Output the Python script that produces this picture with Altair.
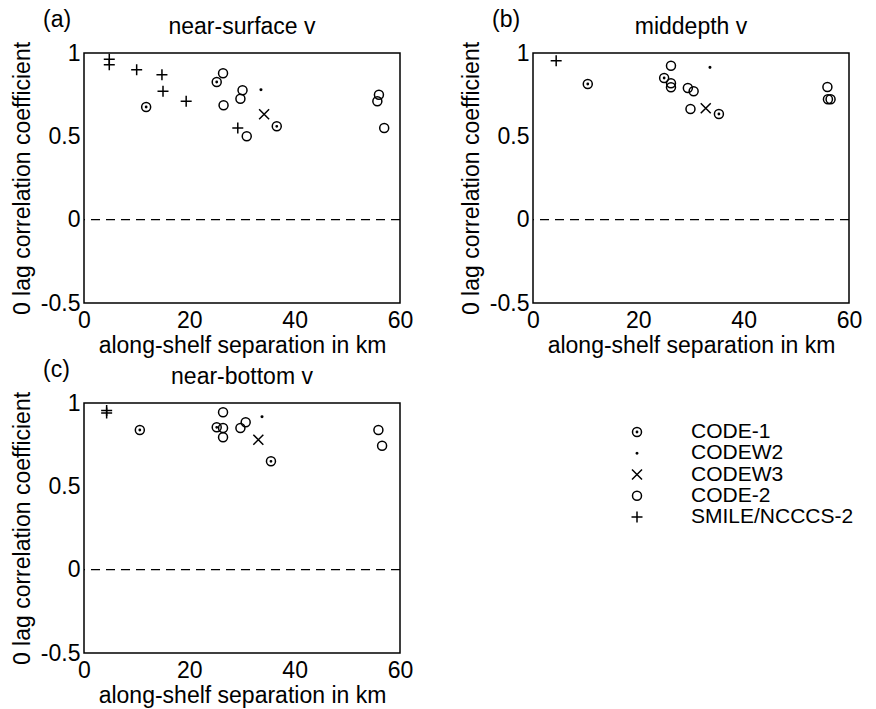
import altair as alt
import pandas as pd

FONT = "Liberation Sans"
FS = 23
LEG_FS = 21

series = ["CODE-1", "CODEW2", "CODEW3", "CODE-2", "SMILE/NCCCS-2"]
shape_paths = [
    "M0.9,0A0.9,0.9 0 1,1 -0.9,0A0.9,0.9 0 1,1 0.9,0Z M0.13,0A0.13,0.13 0 1,1 -0.13,0A0.13,0.13 0 1,1 0.13,0Z",
    "M0.15,0A0.15,0.15 0 1,1 -0.15,0A0.15,0.15 0 1,1 0.15,0Z",
    "M-1,-1L1,1M-1,1L1,-1",
    "M0.9,0A0.9,0.9 0 1,1 -0.9,0A0.9,0.9 0 1,1 0.9,0Z",
    "M-1.1,0L1.1,0M0,-1.1L0,1.1",
]

# panel (a) near-surface v
a_series = ["SMILE/NCCCS-2"] * 7 + ["CODE-1"] * 3 + ["CODE-2"] * 8 + ["CODEW2", "CODEW3"]
a_km = [4.8, 4.8, 10.0, 14.8, 15.0, 19.4, 29.2,
        11.8, 25.2, 36.6,
        26.4, 26.5, 30.1, 29.7, 30.9, 56.0, 55.7, 57.0,
        33.6, 34.2]
a_r = [0.962, 0.93, 0.90, 0.87, 0.77, 0.71, 0.55,
       0.676, 0.826, 0.56,
       0.878, 0.686, 0.776, 0.726, 0.50, 0.75, 0.71, 0.55,
       0.78, 0.632]

# panel (b) middepth v
b_series = ["SMILE/NCCCS-2"] + ["CODE-1"] * 3 + ["CODE-2"] * 9 + ["CODEW2", "CODEW3"]
b_km = [4.4,
        10.4, 24.9, 35.3,
        26.2, 26.2, 26.2, 29.4, 30.5, 29.9, 55.9, 56.0, 56.5,
        33.6, 32.8]
b_r = [0.954,
       0.814, 0.85, 0.634,
       0.924, 0.818, 0.794, 0.79, 0.77, 0.664, 0.796, 0.722, 0.722,
       0.914, 0.668]

# panel (c) near-bottom v
c_series = ["SMILE/NCCCS-2"] * 2 + ["CODE-1"] * 3 + ["CODE-2"] * 7 + ["CODEW2", "CODEW3"]
c_km = [4.3, 4.3,
        10.6, 25.2, 35.5,
        26.4, 26.4, 26.4, 29.7, 30.7, 55.9, 56.6,
        33.8, 33.1]
c_r = [0.955, 0.94,
       0.838, 0.854, 0.65,
       0.944, 0.85, 0.794, 0.85, 0.885, 0.838, 0.744,
       0.918, 0.78]

x_ticks = [0, 20, 40, 60]
y_ticks = [-0.5, 0, 0.5, 1]

W, H = 316, 250

shape_scale = alt.Scale(domain=series, range=shape_paths)


def panel(km, r, ser, letter, title):
    df = pd.DataFrame({"km": km, "r": r, "series": ser})
    x = alt.X("km:Q", scale=alt.Scale(domain=[0, 60], nice=False, zero=False),
              axis=alt.Axis(values=x_ticks, title="along-shelf separation in km",
                            labelPadding=6, titlePadding=2))
    y = alt.Y("r:Q", scale=alt.Scale(domain=[-0.5, 1], nice=False, zero=False),
              axis=alt.Axis(values=y_ticks, title="0 lag correlation coefficient",
                            labelExpr="toString(datum.value)", labelPadding=4,
                            titlePadding=6))
    zero = alt.Chart(pd.DataFrame({"zero": [0]})).mark_rule(
        color="black", strokeWidth=1.3, strokeDash=[9, 6]
    ).encode(y=alt.Y("zero:Q"))
    pts = alt.Chart(df).mark_point(
        filled=False, color="black", strokeWidth=1.5, size=100, opacity=1
    ).encode(x=x, y=y, shape=alt.Shape("series:N", scale=shape_scale, legend=None))
    lab = alt.Chart(pd.DataFrame({"t": [letter]})).mark_text(
        font=FONT, fontSize=FS, align="left", baseline="alphabetic", color="black"
    ).encode(text="t:N", x=alt.value(-41), y=alt.value(-26))
    ttl = alt.Chart(pd.DataFrame({"t": [title]})).mark_text(
        font=FONT, fontSize=FS, align="center", baseline="alphabetic", color="black"
    ).encode(text="t:N", x=alt.value(W / 2), y=alt.value(-19))
    return alt.layer(zero, pts, lab, ttl).properties(width=W, height=H)


pa = panel(a_km, a_r, a_series, "(a)", "near-surface v")
pb = panel(b_km, b_r, b_series, "(b)", "middepth v")
pc = panel(c_km, c_r, c_series, "(c)", "near-bottom v")

leg_df = pd.DataFrame({"series": series})
leg_y = alt.Y("series:N", sort=series,
              scale=alt.Scale(domain=series, range=[29, 114], padding=0), axis=None)
leg_pts = alt.Chart(leg_df).mark_point(
    filled=False, color="black", strokeWidth=1.5, size=100, opacity=1
).encode(x=alt.value(104), y=leg_y,
         shape=alt.Shape("series:N", scale=shape_scale, legend=None))
leg_txt = alt.Chart(leg_df).mark_text(
    font=FONT, fontSize=LEG_FS, align="left", baseline="middle", color="black"
).encode(x=alt.value(158), y=leg_y, text="series:N")
leg = alt.layer(leg_pts, leg_txt).properties(
    width=W, height=H, view=alt.ViewBackground(strokeOpacity=0)
)

chart = alt.concat(pa, pb, pc, leg, columns=2, spacing={"row": 0, "column": 45}).properties(
    padding={"left": 10, "top": 8, "right": 0, "bottom": 0}, background="white"
).configure_view(stroke="black", strokeWidth=1.5).configure_axis(
    labelFont=FONT, labelFontSize=FS, titleFont=FONT, titleFontSize=FS,
    titleFontWeight="normal", labelColor="black", titleColor="black",
    grid=False, domain=False, ticks=False, labelOverlap=False, labelFlush=False,
    labelBound=False
)

chart.save("out.html", embed_options={"renderer": "svg", "actions": False})
